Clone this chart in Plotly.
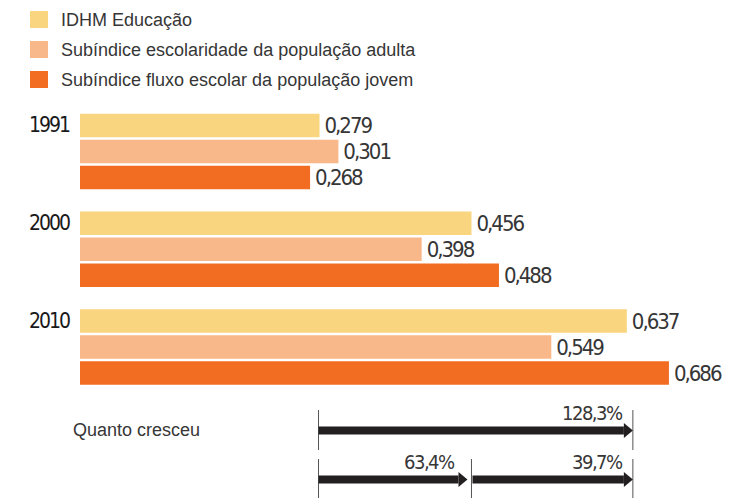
import plotly.graph_objects as go

# ---- data -------------------------------------------------------------
years = ["1991", "2000", "2010"]
series_names = [
    "IDHM Educação",
    "Subíndice escolaridade da população adulta",
    "Subíndice fluxo escolar da população jovem",
]
idhm_educacao = [0.279, 0.456, 0.637]
escolaridade_adulta = [0.301, 0.398, 0.549]
fluxo_jovem = [0.268, 0.488, 0.686]
growth_total = "128,3%"
growth_steps = ["63,4%", "39,7%"]

# ---- style ------------------------------------------------------------
colors = ["#F9D57F", "#F8B889", "#F26C22"]
NARROW = "Liberation Sans Narrow, DejaVu Sans Condensed, sans-serif"
REGULAR = "Liberation Sans, Arial, sans-serif"
TEXT = "#363636"
ARROW = "#231F20"

W, H = 750, 498
L = 80                      # left margin: bars start here
PW = W - L
PX_PER_UNIT = 858.5
X_MAX = PW / PX_PER_UNIT

GROUP_PX = 97.75            # distance between year groups
FIRST_CENTER_PX = 151.5     # centre of first group from the top
Y_TOP = -FIRST_CENTER_PX / GROUP_PX
Y_BOTTOM = (H - FIRST_CENTER_PX) / GROUP_PX
BARGAP = 0.202


def tight(s, spacing):
    """tighten the tracking of a label"""
    return f'<span style="letter-spacing:{spacing}px">{s}</span>'


def xp(px):
    """pixel column -> paper x"""
    return (px - L) / PW


def yp(py):
    """pixel row (from top) -> paper y"""
    return 1 - py / H


def dx(px):
    """pixel length -> data units along x"""
    return px / PX_PER_UNIT


fig = go.Figure()
for name, vals, col in zip(series_names,
                           [idhm_educacao, escolaridade_adulta, fluxo_jovem],
                           colors):
    fig.add_trace(go.Bar(
        y=years, x=vals, orientation="h", name=name,
        marker=dict(color=col, line=dict(width=0)),
        texttemplate=tight("\u2009%{x:.3f}", -2), textposition="outside",
        textfont=dict(family=NARROW, size=22, color=TEXT),
        constraintext="none", cliponaxis=False,
        showlegend=False, hoverinfo="skip",
    ))

shapes = []
annotations = []

# legend
for i, (name, col) in enumerate(zip(series_names, colors)):
    cy = 19.5 + 30 * i
    shapes.append(dict(type="rect", xref="paper", yref="paper",
                       x0=xp(30), x1=xp(48), y0=yp(cy - 8.5), y1=yp(cy + 8.5),
                       fillcolor=col, line=dict(width=0)))
    annotations.append(dict(text=name, xref="paper", yref="paper",
                            x=xp(59), y=yp(cy), xanchor="left", yanchor="middle",
                            showarrow=False,
                            font=dict(family=REGULAR, size=18, color=TEXT)))

# year labels beside the top bar of each group (category index as position)
bar_pitch = GROUP_PX * (1 - BARGAP) / 3
for i, yr in enumerate(years):
    annotations.append(dict(text=tight(yr, -2), xref="paper", yref="y",
                            x=xp(72), y=i, yshift=bar_pitch, xanchor="right",
                            yanchor="middle", showarrow=False,
                            font=dict(family=NARROW, size=21, color="#1A1A1A")))

# growth arrows
annotations.append(dict(text="Quanto cresceu", xref="paper", yref="paper",
                        x=xp(71), y=yp(430), xanchor="left", yanchor="middle",
                        showarrow=False,
                        font=dict(family=REGULAR, size=18, color=TEXT)))

start, mid, end = idhm_educacao
end_x = end + dx(6)
mid_x = mid


def tick(x, top, bottom):
    shapes.append(dict(type="line", xref="x", yref="paper", x0=x, x1=x,
                       y0=yp(top), y1=yp(bottom),
                       line=dict(color="#555555", width=1)))


def arrow(x0, x1, cy):
    head_len, head_half, shaft_half = dx(9), 7.5, 4
    shapes.append(dict(type="rect", xref="x", yref="paper",
                       x0=x0, x1=x1 - head_len,
                       y0=yp(cy + shaft_half), y1=yp(cy - shaft_half),
                       fillcolor=ARROW, line=dict(width=0)))
    path = (f"M {x1 - head_len},{yp(cy - head_half)} L {x1},{yp(cy)} "
            f"L {x1 - head_len},{yp(cy + head_half)} Z")
    shapes.append(dict(type="path", xref="x", yref="paper", path=path,
                       fillcolor=ARROW, line=dict(width=0)))


def growth_label(text, x_right, cy):
    annotations.append(dict(text=tight(text, -1.5), xref="x", yref="paper",
                            x=x_right, y=yp(cy), xanchor="right",
                            yanchor="middle", showarrow=False,
                            font=dict(family=NARROW, size=20, color=TEXT)))


# row 1: total growth 1991 -> 2010
tick(start - dx(1), 410, 450)
tick(end_x, 410, 450)
arrow(start - dx(1), end_x, 430.5)
growth_label(growth_total, end_x - dx(8), 412.5)

# row 2: 1991 -> 2000 -> 2010
tick(start - dx(1), 459, 498)
tick(mid_x, 459, 498)
tick(end_x, 459, 498)
arrow(start - dx(1), mid_x - dx(4), 479.5)
arrow(mid_x + dx(1), end_x, 479.5)
growth_label(growth_steps[0], mid_x - dx(14), 462)
growth_label(growth_steps[1], end_x - dx(8), 462)

fig.update_layout(
    width=W, height=H,
    margin=dict(l=L, r=0, t=0, b=0),
    paper_bgcolor="white", plot_bgcolor="white",
    barmode="group", bargap=BARGAP, bargroupgap=0.09,
    separators=",.",
    xaxis=dict(range=[0, X_MAX], visible=False, fixedrange=True),
    yaxis=dict(type="category", range=[Y_BOTTOM, Y_TOP], visible=False,
               fixedrange=True),
    shapes=shapes, annotations=annotations,
    showlegend=False,
)

fig.write_html("out.html")
